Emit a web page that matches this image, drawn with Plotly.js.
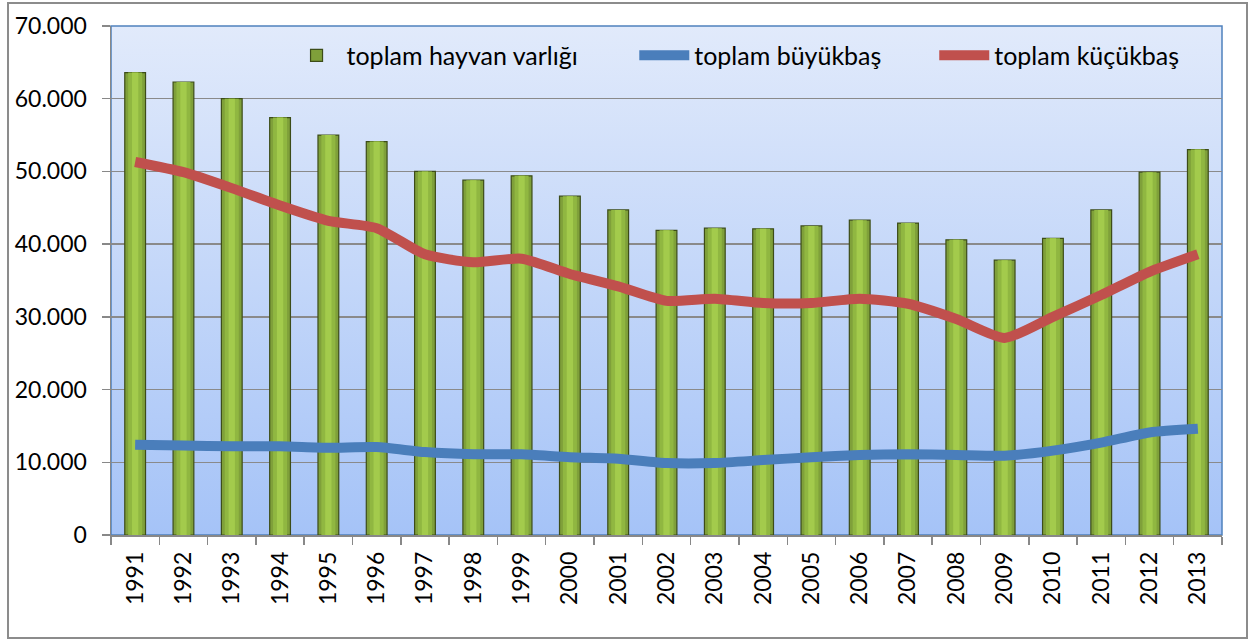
<!DOCTYPE html>
<html>
<head>
<meta charset="utf-8">
<script src="https://cdn.plot.ly/plotly-3.0.1.min.js"></script>
<style>
html,body{margin:0;padding:0;background:#fff;}
#chart{width:1252px;height:640px;}
</style>
</head>
<body>
<div id="chart"></div>
<script>
const years = ["1991","1992","1993","1994","1995","1996","1997","1998","1999","2000","2001","2002","2003","2004","2005","2006","2007","2008","2009","2010","2011","2012","2013"];
const toplamHayvan = [63600,62300,60000,57400,55000,54100,50000,48800,49400,46600,44700,41900,42200,42100,42500,43300,42900,40600,37800,40800,44700,49900,53000];
const toplamBuyukbas = [12400,12300,12200,12200,12000,12100,11400,11100,11100,10700,10500,9900,9900,10300,10700,11000,11100,11000,10900,11600,12700,14100,14600];
const toplamKucukbas = [51300,49900,47700,45300,43200,42200,38600,37500,38000,35900,34200,32200,32500,31900,31900,32500,31800,29700,27100,30000,33000,36200,38600];
const seriesNames = ["toplam hayvan varlığı","toplam büyükbaş","toplam küçükbaş"];

const FONT = "Lato, 'Open Sans', sans-serif";
const FS = 23;
const LFS = 25;

const bgSvg = '<svg xmlns="http://www.w3.org/2000/svg" width="100" height="100" preserveAspectRatio="none"><defs><linearGradient id="g" x1="0" y1="0" x2="0" y2="1"><stop offset="0" stop-color="#e1eafb"/><stop offset="1" stop-color="#a5c3f7"/></linearGradient></defs><rect width="100" height="100" fill="url(#g)"/></svg>';
const bgUri = 'data:image/svg+xml;base64,' + btoa(bgSvg);

const traces = [
  {type:'bar', x:years, y:toplamHayvan, name:seriesNames[0], width:0.43, legend:'legend',
   marker:{color:'#7fa03a', line:{color:'#3c4c18', width:1.2}}, hoverinfo:'x+y'},
  {type:'bar', x:years, y:toplamHayvan, showlegend:false, width:0.29,
   marker:{color:'#90b741', line:{width:0}}, hoverinfo:'skip'},
  {type:'bar', x:years, y:toplamHayvan, showlegend:false, width:0.13,
   marker:{color:'#a3cb4c', line:{width:0}}, hoverinfo:'skip'},
  {type:'scatter', mode:'lines', x:years, y:toplamBuyukbas, name:seriesNames[1], legend:'legend2',
   line:{color:'#4a7ebb', width:10, shape:'spline', smoothing:0.6}},
  {type:'scatter', mode:'lines', x:years, y:toplamKucukbas, name:seriesNames[2], legend:'legend3',
   line:{color:'#c0504d', width:10, shape:'spline', smoothing:0.6}}
];

function leg(x){
  return {orientation:'h', x:x, y:0.987, xanchor:'left', yanchor:'top',
          bgcolor:'rgba(0,0,0,0)', font:{family:FONT, size:LFS, color:'#000'}, itemwidth:50};
}

const layout = {
  width:1252, height:640,
  margin:{l:111, r:30, t:26, b:105},
  paper_bgcolor:'#ffffff',
  plot_bgcolor:'rgba(0,0,0,0)',
  separators:',.',
  barmode:'overlay',
  font:{family:FONT, size:FS, color:'#000'},
  showlegend:true,
  legend:leg(0.158),
  legend2:leg(0.471),
  legend3:leg(0.741),
  xaxis:{type:'category', showgrid:false, showline:true, linecolor:'#888888', linewidth:1.5,
         ticks:'outside', tickson:'boundaries', ticklen:8, tickcolor:'#888888', tickwidth:1.5,
         tickangle:-90, tickfont:{family:FONT, size:FS, color:'#000'}, ticklabelstandoff:6},
  yaxis:{range:[0,70000], dtick:10000, tickformat:',d', showgrid:true, gridcolor:'#8a8a8a', gridwidth:1.5,
         showline:true, linecolor:'#888888', linewidth:1.5, ticks:'outside', ticklen:8,
         tickcolor:'#888888', tickwidth:1.5, zeroline:false,
         tickfont:{family:FONT, size:FS, color:'#000'}, ticklabelstandoff:10},
  images:[{source:bgUri, xref:'paper', yref:'paper', x:0, y:1, sizex:1, sizey:1,
           sizing:'stretch', xanchor:'left', yanchor:'top', layer:'below'}],
  shapes:[
    {type:'rect', xref:'paper', yref:'paper', x0:0, x1:1, y0:0, y1:1,
     line:{color:'#4f81bd', width:1.5}, layer:'below'},
    {type:'rect', xref:'paper', yref:'paper', x0:-0.0927, x1:1.0225, y0:-0.2024, y1:1.0452,
     line:{color:'#8c8c8c', width:2}, fillcolor:'rgba(0,0,0,0)', layer:'above'}
  ]
};

Plotly.newPlot('chart', traces, layout, {displayModeBar:false, staticPlot:true});
</script>
</body>
</html>
